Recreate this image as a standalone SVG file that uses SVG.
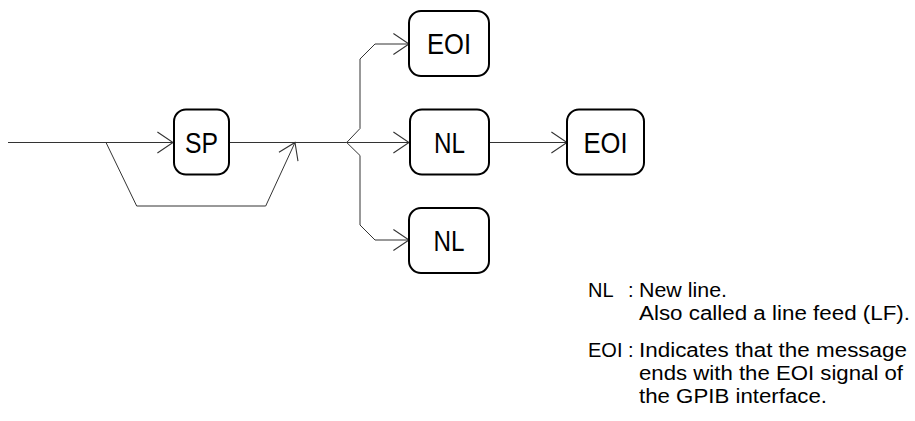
<svg xmlns="http://www.w3.org/2000/svg" width="915" height="421" viewBox="0 0 915 421">
<style>
.box{fill:#fff;stroke:#000;stroke-width:2}
.lbl{font-family:"Liberation Sans",Arial,Helvetica,sans-serif;font-size:30px;fill:#000;text-anchor:middle}
.ln{fill:none;stroke:#333;stroke-width:1}
.leg{font-family:"Liberation Sans",Arial,Helvetica,sans-serif;font-size:20px;fill:#000}
</style>
<defs>
<marker id="arr" markerUnits="userSpaceOnUse" markerWidth="20" markerHeight="24" viewBox="-16 -11 17 22" refX="0" refY="0" orient="auto" overflow="visible">
<path d="M-14.3,-9.6 L0,0 L-14.3,9.6" fill="none" stroke="#333" stroke-width="1"/>
</marker>
</defs>
<rect width="915" height="421" fill="#fff"/>
<g id="connectors">
<path class="ln" d="M8,142.5 H173" marker-end="url(#arr)"/>
<path class="ln" d="M106,142.5 L136.7,206 H265.7 L295,142.5" marker-end="url(#arr)"/>
<path class="ln" d="M229,142.5 H346.7"/>
<path class="ln" d="M346.7,142.5 L360,128.5 V59 L375,44 H409" marker-end="url(#arr)"/>
<path class="ln" d="M346.7,142.5 H409" marker-end="url(#arr)"/>
<path class="ln" d="M346.7,142.5 L360,155.5 V225 L375,240 H409" marker-end="url(#arr)"/>
<path class="ln" d="M489,142.5 H567" marker-end="url(#arr)"/>
</g>
<g id="node-sp">
<rect class="box" x="174" y="109.5" width="55" height="65" rx="12"/>
<text class="lbl" x="201.5" y="152.8" textLength="33" lengthAdjust="spacingAndGlyphs">SP</text>
</g>
<g id="node-eoi1">
<rect class="box" x="409" y="11" width="80" height="65" rx="12"/>
<text class="lbl" x="449" y="54" textLength="44" lengthAdjust="spacingAndGlyphs">EOI</text>
</g>
<g id="node-nl1">
<rect class="box" x="410" y="109.5" width="79" height="65" rx="12"/>
<text class="lbl" x="449.5" y="152.8" textLength="31" lengthAdjust="spacingAndGlyphs">NL</text>
</g>
<g id="node-eoi2">
<rect class="box" x="567" y="109.5" width="77" height="65" rx="12"/>
<text class="lbl" x="605.5" y="152.8" textLength="44" lengthAdjust="spacingAndGlyphs">EOI</text>
</g>
<g id="node-nl2">
<rect class="box" x="409" y="208" width="80" height="65" rx="12"/>
<text class="lbl" x="449" y="251" textLength="31" lengthAdjust="spacingAndGlyphs">NL</text>
</g>
<g id="legend">
<text class="leg" x="588" y="297">NL</text>
<text class="leg" x="628" y="297">:</text>
<text class="leg" x="639" y="297" textLength="88" lengthAdjust="spacingAndGlyphs">New line.</text>
<text class="leg" x="639" y="320" textLength="271" lengthAdjust="spacingAndGlyphs">Also called a line feed (LF).</text>
<text class="leg" x="588" y="357">EOI</text>
<text class="leg" x="628" y="357">:</text>
<text class="leg" x="639" y="357" textLength="268" lengthAdjust="spacingAndGlyphs">Indicates that the message</text>
<text class="leg" x="639" y="380" textLength="264" lengthAdjust="spacingAndGlyphs">ends with the EOI signal of</text>
<text class="leg" x="639" y="403" textLength="188" lengthAdjust="spacingAndGlyphs">the GPIB interface.</text>
</g>
</svg>
